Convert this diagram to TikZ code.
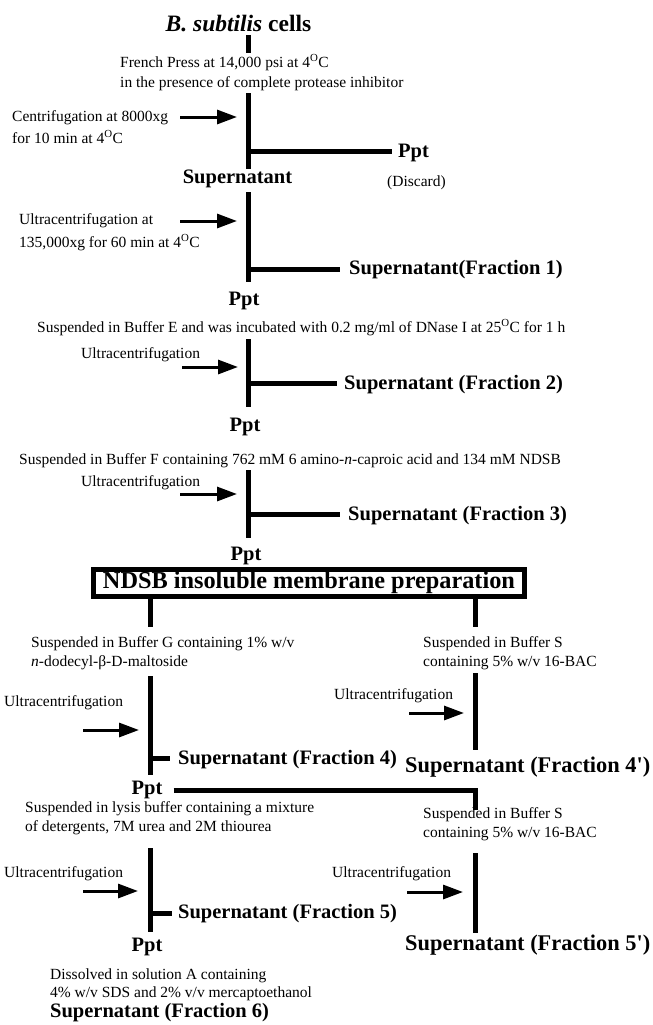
\documentclass[tikz,border=0pt]{standalone}
\usepackage{fontspec}
\setmainfont{Liberation Serif}
\usetikzlibrary{positioning, arrows.meta}
\newcommand{\dC}{\textsuperscript{O}C}

\begin{document}
\begin{tikzpicture}[x=1pt, y=-1pt,
    txt/.style = {font=\fontsize{15.5}{20}\selectfont, inner sep=0pt, align=left},
    prod/.style = {font=\fontsize{20.5}{24}\selectfont\bfseries, inner sep=0pt},
    prodbig/.style = {font=\fontsize{22.4}{26}\selectfont\bfseries, inner sep=0pt},
    head/.style = {font=\fontsize{23.5}{28}\selectfont\bfseries, inner sep=0pt},
    bar/.style = {line width=5pt},
    spin/.style = {line width=3pt, -{Triangle[length=20pt,width=14pt]}},
    prepbox/.style = {draw, line width=5pt, minimum width=431pt, minimum height=27pt,
      inner sep=0pt, font=\fontsize{24.3}{28}\selectfont\bfseries},
  ]
\useasboundingbox (0,0) rectangle (653,1025);

% cell lysis and low speed spin
\node[head, anchor=base] (cells) at (238.5,32) {\textit{B. subtilis} cells};
\node[txt, anchor=base west] (press) at (120,87)
  {French Press at 14,000 psi at 4\dC\\in the presence of complete protease inhibitor};
\node[txt, anchor=base west, font=\fontsize{15.5}{22}\selectfont] (cent) at (12,143)
  {Centrifugation at 8000xg\\for 10 min at 4\dC};
\node[prod, anchor=base west] (ppt0) at (398,157) {Ppt};
\node[txt, anchor=base west] (discard) at (387,186) {(Discard)};
\node[prod, anchor=base] (sup0) at (237.5,183) {Supernatant};
\coordinate (s1) at (248,35);  \coordinate (s2) at (248,53);
\coordinate (s3) at (248,93);  \coordinate (s4) at (248,169);
\coordinate (j1) at (248,151); \coordinate (c1) at (180,117); \coordinate (c1e) at (237,117);
\draw[bar] (s1) -- (s2);
\draw[bar] (s3) -- (s4);
\draw[bar] (j1) -- ([xshift=-6pt]ppt0.west |- j1);
\draw[spin] (c1) -- (c1e);

% ultracentrifugation
\node[txt, anchor=base west, font=\fontsize{15.5}{23}\selectfont] (ucent) at (19,247)
  {Ultracentrifugation at\\135,000xg for 60 min at 4\dC};
\node[prod, anchor=base west] (frac1) at (349,274) {Supernatant(Fraction 1)};
\node[prod, anchor=base] (ppt1) at (244,305) {Ppt};
\coordinate (s5) at (248,192); \coordinate (s6) at (248,282);
\coordinate (j2) at (248,269); \coordinate (c2) at (180,221); \coordinate (c2e) at (237,221);
\draw[bar] (s5) -- (s6);
\draw[bar] (j2) -- ([xshift=-9pt]frac1.west |- j2);
\draw[spin] (c2) -- (c2e);

% DNase step
\node[txt, anchor=base west] (dnase) at (37,332)
  {Suspended in Buffer E and was incubated with 0.2 mg/ml of DNase I at 25\dC\ for 1 h};
\node[txt, anchor=base west] (uc2) at (81,358) {Ultracentrifugation};
\node[prod, anchor=base west] (frac2) at (344,389) {Supernatant (Fraction 2)};
\node[prod, anchor=base] (ppt2) at (245,431) {Ppt};
\coordinate (s7) at (248,339); \coordinate (s8) at (248,407);
\coordinate (j3) at (248,383); \coordinate (c3) at (182,367); \coordinate (c3e) at (238,367);
\draw[bar] (s7) -- (s8);
\draw[bar] (j3) -- ([xshift=-7pt]frac2.west |- j3);
\draw[spin] (c3) -- (c3e);

% NDSB step
\node[txt, anchor=base west] (ndsb) at (19,464)
  {Suspended in Buffer F containing 762 mM 6 amino-\textit{n}-caproic acid and 134 mM NDSB};
\node[txt, anchor=base west] (uc3) at (81,486) {Ultracentrifugation};
\node[prod, anchor=base west] (frac3) at (348,520) {Supernatant (Fraction 3)};
\node[prod, anchor=base] (ppt3) at (246,560) {Ppt};
\coordinate (s9) at (248,470); \coordinate (s10) at (248,538);
\coordinate (j4) at (248,514); \coordinate (c4) at (180,494); \coordinate (c4e) at (237,494);
\draw[bar] (s9) -- (s10);
\draw[bar] (j4) -- ([xshift=-8pt]frac3.west |- j4);
\draw[spin] (c4) -- (c4e);

\node[prepbox] (prep) at (309,583) {NDSB insoluble membrane preparation};

% left branch: dodecyl maltoside
\coordinate (l0) at (150,599); \coordinate (l1) at (150,627);
\coordinate (r0) at (475,599); \coordinate (r1) at (475,627);
\draw[bar] (l0) -- (l1);
\draw[bar] (r0) -- (r1);
\node[txt, anchor=base west, font=\fontsize{15.5}{19}\selectfont] (bufG) at (31,666)
  {Suspended in Buffer G containing 1\% w/v\\\textit{n}-dodecyl-β-D-maltoside};
\node[txt, anchor=base west] (uc4) at (4,706) {Ultracentrifugation};
\node[prod, anchor=base west] (frac4) at (178,764) {Supernatant (Fraction 4)};
\node[prod, anchor=base] (ppt4) at (147,794) {Ppt};
\coordinate (l2) at (150,676); \coordinate (l3) at (150,775);
\coordinate (j5) at (150,758); \coordinate (c5) at (83,730); \coordinate (c5e) at (139,730);
\draw[bar] (l2) -- (l3);
\draw[bar] (j5) -- ([xshift=-8pt]frac4.west |- j5);
\draw[spin] (c5) -- (c5e);

% right branch: 16-BAC
\node[txt, anchor=base west, font=\fontsize{15.5}{19}\selectfont] (bufS) at (423,666)
  {Suspended in Buffer S\\containing 5\% w/v 16-BAC};
\node[txt, anchor=base west] (uc5) at (334,699) {Ultracentrifugation};
\node[prodbig, anchor=base west] (frac4b) at (405,772) {Supernatant (Fraction 4\textquotesingle)};
\coordinate (r2) at (475,673); \coordinate (r3) at (475,750);
\coordinate (c6) at (409,713); \coordinate (c6e) at (464,713);
\draw[bar] (r2) -- (r3);
\draw[spin] (c6) -- (c6e);
\coordinate (r4) at (475,810);
\draw[bar, line join=miter] ([xshift=11pt]ppt4.east |- 0,790) -| (r4);

% left branch: lysis buffer
\node[txt, anchor=base west, font=\fontsize{15.5}{19}\selectfont] (lysis) at (25,831)
  {Suspended in lysis buffer containing a mixture\\of detergents, 7M urea and 2M thiourea};
\node[txt, anchor=base west] (uc6) at (4,877) {Ultracentrifugation};
\node[prod, anchor=base west] (frac5) at (178,918) {Supernatant (Fraction 5)};
\node[prod, anchor=base] (ppt5) at (147,951) {Ppt};
\coordinate (l4) at (150,848); \coordinate (l5) at (150,932);
\coordinate (j6) at (150,913); \coordinate (c7) at (83,891); \coordinate (c7e) at (138,891);
\draw[bar] (l4) -- (l5);
\draw[bar] (j6) -- ([xshift=-6pt]frac5.west |- j6);
\draw[spin] (c7) -- (c7e);

% right branch: 16-BAC again
\node[txt, anchor=base west, font=\fontsize{15.5}{19}\selectfont] (bufS2) at (423,837)
  {Suspended in Buffer S\\containing 5\% w/v 16-BAC};
\node[txt, anchor=base west] (uc7) at (332,877) {Ultracentrifugation};
\node[prodbig, anchor=base west] (frac5b) at (405,950) {Supernatant (Fraction 5\textquotesingle)};
\coordinate (r5) at (475,853); \coordinate (r6) at (475,933);
\coordinate (c8) at (407,892); \coordinate (c8e) at (463,892);
\draw[bar] (r5) -- (r6);
\draw[spin] (c8) -- (c8e);

% SDS
\node[txt, anchor=base west, font=\fontsize{15.5}{18}\selectfont] (sds) at (50,997)
  {Dissolved in solution A containing\\4\% w/v SDS and 2\% v/v mercaptoethanol};
\node[prod, anchor=base west] (frac6) at (50,1017) {Supernatant (Fraction 6)};
\end{tikzpicture}
\end{document}
